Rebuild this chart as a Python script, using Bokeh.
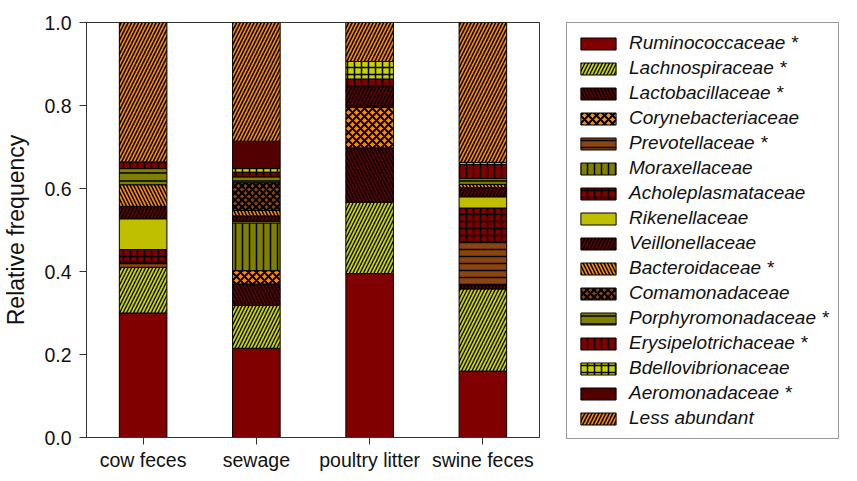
import numpy as np
from bokeh.plotting import figure
from bokeh.layouts import row
from bokeh.models import ColumnDataSource, Range1d, FixedTicker, Legend, LegendItem, PrintfTickFormatter
from bokeh.embed import file_html
from bokeh.resources import INLINE

categories = ["cow feces", "sewage", "poultry litter", "swine feces"]

families = ["Ruminococcaceae *", "Lachnospiraceae *", "Lactobacillaceae *", "Corynebacteriaceae",
            "Prevotellaceae *", "Moraxellaceae", "Acholeplasmataceae", "Rikenellaceae",
            "Veillonellaceae", "Bacteroidaceae *", "Comamonadaceae", "Porphyromonadaceae *",
            "Erysipelotrichaceae *", "Bdellovibrionaceae", "Aeromonadaceae *", "Less abundant"]

# relative frequency of each family per sample (cow, sewage, poultry, swine)
ruminococcaceae = [0.300, 0.215, 0.395, 0.160]
lachnospiraceae = [0.110, 0.103, 0.172, 0.198]
lactobacillaceae = [0.000, 0.052, 0.131, 0.009]
corynebacteriaceae = [0.000, 0.032, 0.097, 0.000]
prevotellaceae = [0.013, 0.000, 0.000, 0.105]
moraxellaceae = [0.000, 0.115, 0.000, 0.000]
acholeplasmataceae = [0.030, 0.000, 0.004, 0.081]
rikenellaceae = [0.074, 0.004, 0.000, 0.027]
veillonellaceae = [0.030, 0.013, 0.048, 0.022]
bacteroidaceae = [0.052, 0.013, 0.000, 0.008]
comamonadaceae = [0.000, 0.067, 0.000, 0.000]
porphyromonadaceae = [0.039, 0.014, 0.000, 0.014]
erysipelotrichaceae = [0.016, 0.011, 0.017, 0.034]
bdellovibrionaceae = [0.000, 0.009, 0.042, 0.005]
aeromonadaceae = [0.000, 0.066, 0.000, 0.000]
less_abundant = [0.336, 0.286, 0.094, 0.337]

series = [ruminococcaceae, lachnospiraceae, lactobacillaceae, corynebacteriaceae,
          prevotellaceae, moraxellaceae, acholeplasmataceae, rikenellaceae,
          veillonellaceae, bacteroidaceae, comamonadaceae, porphyromonadaceae,
          erysipelotrichaceae, bdellovibrionaceae, aeromonadaceae, less_abundant]

MAROON = "#800000"
DARKRED = "#600000"
AERO = "#520000"
YG = "#C8D200"
RIK = "#BFBF00"
ORANGE = "#FF8C00"
BROWN = "#8B4513"
OLIVE = "#808000"

fills = [MAROON, YG, DARKRED, ORANGE, BROWN, OLIVE, MAROON, RIK,
         DARKRED, ORANGE, BROWN, OLIVE, MAROON, YG, AERO, ORANGE]
hatches = [" ", "/", "\\", "x", "-", "|", "+", " ", "/", "\\", "x", "-", "|", "+", " ", "/"]
hscale = [6, 7, 7, 8, 7, 7, 7, 6, 7, 7, 7, 8, 7, 7, 6, 7]
hweight = [1, 1.3, 1.5, 2, 1.5, 1.5, 1.5, 1, 1.5, 1.5, 2, 1.5, 1.5, 1.5, 1, 1.6]

FONT = "Liberation Sans"
H = 473

p = figure(width=565, height=H, output_backend="svg", toolbar_location=None,
           x_range=Range1d(-0.5, 3.5), y_range=Range1d(0, 1),
           min_border_left=82, min_border_top=22, min_border_bottom=33, min_border_right=26)
p.xgrid.visible = False
p.ygrid.visible = False
p.outline_line_color = "#333333"
p.outline_line_width = 1

idx = np.arange(len(categories))
cum = np.zeros(len(categories))
for vals, fc, hp, hs, hw in zip(series, fills, hatches, hscale, hweight):
    v = np.array(vals, dtype=float)
    mask = v > 0
    src = ColumnDataSource(dict(x=idx[mask], bottom=cum[mask], top=(cum + v)[mask]))
    p.vbar(x="x", width=0.42, bottom="bottom", top="top", source=src,
           fill_color=fc, hatch_pattern=hp, hatch_color="black", hatch_scale=hs,
           hatch_weight=hw, line_color="black", line_width=1)
    cum = cum + v

p.xaxis.ticker = FixedTicker(ticks=list(idx))
p.xaxis.major_label_overrides = {int(i): c for i, c in zip(idx, categories)}
p.xaxis.minor_tick_line_color = None
p.xaxis.major_tick_in = 0
p.xaxis.major_tick_out = 7
p.xaxis.major_label_standoff = 4
p.xaxis.major_label_text_font = FONT
p.xaxis.major_label_text_font_size = "19.5px"
p.xaxis.major_label_text_color = "#111111"
p.xaxis.axis_line_color = "#333333"
p.xaxis.major_tick_line_color = "#333333"

p.yaxis.ticker = FixedTicker(ticks=[0, 0.2, 0.4, 0.6, 0.8, 1.0])
p.yaxis.formatter = PrintfTickFormatter(format="%.1f")
p.yaxis.minor_tick_line_color = None
p.yaxis.major_tick_in = 0
p.yaxis.major_tick_out = 7
p.yaxis.major_label_standoff = 8
p.yaxis.major_label_text_font = FONT
p.yaxis.major_label_text_font_size = "19.5px"
p.yaxis.major_label_text_color = "#111111"
p.yaxis.axis_line_color = "#333333"
p.yaxis.major_tick_line_color = "#333333"
p.yaxis.axis_label = "Relative frequency"
p.yaxis.axis_label_text_font = FONT
p.yaxis.axis_label_text_font_size = "23px"
p.yaxis.axis_label_text_font_style = "normal"
p.yaxis.axis_label_text_color = "#111111"
p.yaxis.axis_label_standoff = 12

# legend panel (its swatches use the same styles; their single bar lies outside the visible range)
pl = figure(width=276, height=H, output_backend="svg", toolbar_location=None,
            x_axis_location=None, y_axis_location=None,
            min_border_left=0, min_border_right=0, min_border_top=21, min_border_bottom=0,
            x_range=Range1d(0, 1), y_range=Range1d(0, 1))
pl.xgrid.visible = False
pl.ygrid.visible = False
pl.outline_line_color = None
for fig in (p, pl):
    if hasattr(fig, "frame_align"):
        fig.frame_align = False
items = []
for name, fc, hp, hs, hw in zip(families, fills, hatches, hscale, hweight):
    r = pl.vbar(x=[10], top=[1], bottom=[0], width=0.5, fill_color=fc, hatch_pattern=hp,
                hatch_color="black", hatch_scale=hs, hatch_weight=hw,
                line_color="black", line_width=1)
    items.append(LegendItem(label=name, renderers=[r]))

legend = Legend(items=items, location="top_left", margin=1, padding=9, spacing=3,
                glyph_width=44, glyph_height=15, label_standoff=9,
                label_text_font=FONT, label_text_font_size="19px", label_text_font_style="italic",
                label_text_color="#111111", border_line_color="#333333", border_line_width=1.5,
                background_fill_alpha=1.0)
pl.add_layout(legend)

open("out.html", "w").write(file_html(row(p, pl), INLINE))
